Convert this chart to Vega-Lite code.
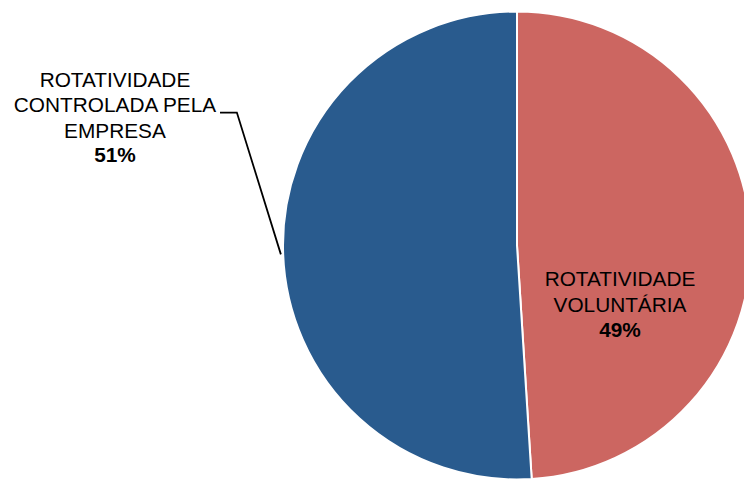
{
  "$schema": "https://vega.github.io/schema/vega-lite/v6.json",
  "autosize": {"type": "none"},
  "width": 454,
  "height": 467,
  "padding": {"left": 290, "top": 12, "right": 0, "bottom": 0},
  "background": "white",
  "config": {"view": {"stroke": null}, "font": "Liberation Sans"},
  "datasets": {
    "fatias": [
      {"categoria": "ROTATIVIDADE VOLUNTÁRIA", "valor": 49},
      {"categoria": "ROTATIVIDADE CONTROLADA PELA EMPRESA", "valor": 51}
    ],
    "rotulos": [
      {"texto": "ROTATIVIDADE\nCONTROLADA PELA\nEMPRESA", "px": -1.718, "py": 0.679, "tipo": "nome"},
      {"texto": "51%", "px": -1.718, "py": 0.355, "tipo": "pct"},
      {"texto": "ROTATIVIDADE\nVOLUNTÁRIA", "px": 0.44, "py": -0.175, "tipo": "nome"},
      {"texto": "49%", "px": 0.44, "py": -0.393, "tipo": "pct"}
    ],
    "guia": [
      {"px": -1.269, "py": 0.568, "ordem": 1},
      {"px": -1.197, "py": 0.568, "ordem": 2},
      {"px": -1.009, "py": -0.038, "ordem": 3}
    ]
  },
  "layer": [
    {
      "data": {"name": "fatias"},
      "mark": {"type": "arc", "outerRadius": 234, "stroke": "white", "strokeWidth": 2},
      "encoding": {
        "theta": {"field": "valor", "type": "quantitative", "stack": true},
        "order": {"field": "valor", "type": "quantitative", "sort": "ascending"},
        "color": {
          "field": "categoria",
          "type": "nominal",
          "scale": {
            "domain": ["ROTATIVIDADE VOLUNTÁRIA", "ROTATIVIDADE CONTROLADA PELA EMPRESA"],
            "range": ["#CC6661", "#295B8E"]
          },
          "legend": null
        }
      }
    },
    {
      "data": {"name": "guia"},
      "mark": {"type": "line", "color": "black", "strokeWidth": 1.8},
      "encoding": {
        "x": {"field": "px", "type": "quantitative", "scale": {"domain": [-0.97, 0.97], "nice": false, "zero": false}, "axis": null},
        "y": {"field": "py", "type": "quantitative", "scale": {"domain": [-0.998, 0.998], "nice": false, "zero": false}, "axis": null},
        "order": {"field": "ordem", "type": "quantitative"}
      }
    },
    {
      "data": {"name": "rotulos"},
      "transform": [{"filter": "datum.tipo == 'nome'"}],
      "mark": {"type": "text", "fontSize": 20.8, "lineBreak": "\n", "lineHeight": 25.5, "align": "center", "baseline": "alphabetic", "color": "black"},
      "encoding": {
        "x": {"field": "px", "type": "quantitative", "scale": {"domain": [-0.97, 0.97], "nice": false, "zero": false}, "axis": null},
        "y": {"field": "py", "type": "quantitative", "scale": {"domain": [-0.998, 0.998], "nice": false, "zero": false}, "axis": null},
        "text": {"field": "texto"}
      }
    },
    {
      "data": {"name": "rotulos"},
      "transform": [{"filter": "datum.tipo == 'pct'"}],
      "mark": {"type": "text", "fontSize": 20.8, "fontWeight": "bold", "align": "center", "baseline": "alphabetic", "color": "black"},
      "encoding": {
        "x": {"field": "px", "type": "quantitative", "scale": {"domain": [-0.97, 0.97], "nice": false, "zero": false}, "axis": null},
        "y": {"field": "py", "type": "quantitative", "scale": {"domain": [-0.998, 0.998], "nice": false, "zero": false}, "axis": null},
        "text": {"field": "texto"}
      }
    }
  ]
}
